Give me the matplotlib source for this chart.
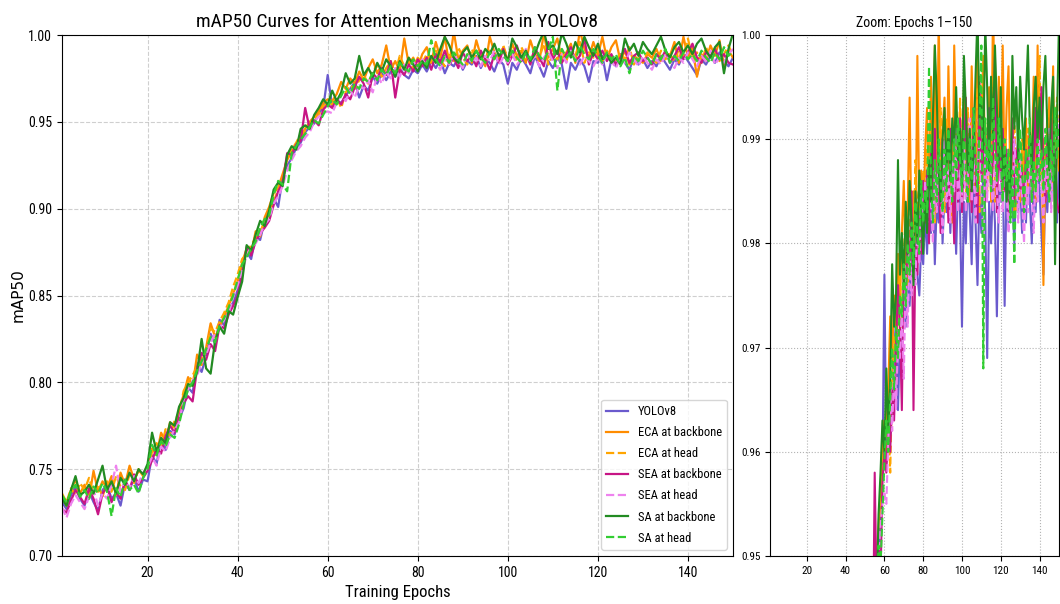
import numpy as np
import matplotlib
matplotlib.use('Agg')
import matplotlib.pyplot as plt

plt.rcParams['font.family'] = ['Roboto Condensed', 'Open Sans Condensed', 'DejaVu Sans']
plt.rcParams['font.stretch'] = 'condensed'

epochs = np.arange(1, 151)

yolov8 = [
    0.731, 0.727, 0.735, 0.740, 0.733, 0.729, 0.737, 0.731, 0.726, 0.738,
    0.741, 0.733, 0.736, 0.729, 0.742, 0.738, 0.745, 0.737, 0.744, 0.743,
    0.758, 0.753, 0.767, 0.761, 0.772, 0.770, 0.779, 0.785, 0.797, 0.794,
    0.811, 0.806, 0.815, 0.828, 0.822, 0.836, 0.833, 0.842, 0.846, 0.853,
    0.866, 0.875, 0.871, 0.884, 0.882, 0.893, 0.898, 0.906, 0.901, 0.918,
    0.925, 0.929, 0.935, 0.938, 0.944, 0.947, 0.949, 0.955, 0.958, 0.977,
    0.959, 0.962, 0.961, 0.965, 0.969, 0.973, 0.964, 0.971, 0.968, 0.976,
    0.972, 0.978, 0.974, 0.979, 0.976, 0.981, 0.977, 0.975, 0.980, 0.978,
    0.983, 0.979, 0.985, 0.981, 0.986, 0.978, 0.984, 0.982, 0.987, 0.980,
    0.985, 0.983, 0.988, 0.981, 0.986, 0.984, 0.979, 0.986, 0.983, 0.972,
    0.984, 0.980, 0.987, 0.983, 0.978, 0.988, 0.982, 0.976, 0.985, 0.981,
    0.987, 0.983, 0.969, 0.984, 0.980, 0.986, 0.982, 0.973, 0.985, 0.984,
    0.988, 0.974, 0.986, 0.982, 0.989, 0.984, 0.980, 0.987, 0.983, 0.986,
    0.981, 0.985, 0.982, 0.988, 0.984, 0.980, 0.986, 0.983, 0.989, 0.985,
    0.981, 0.977, 0.986, 0.983, 0.988, 0.984, 0.990, 0.985, 0.982, 0.987,
]

eca_backbone = [
    0.734, 0.729, 0.738, 0.744, 0.736, 0.741, 0.733, 0.749, 0.737, 0.743,
    0.739, 0.746, 0.735, 0.748, 0.741, 0.752, 0.744, 0.749, 0.747, 0.752,
    0.762, 0.758, 0.771, 0.766, 0.777, 0.774, 0.784, 0.793, 0.803, 0.798,
    0.816, 0.810, 0.820, 0.834, 0.826, 0.832, 0.838, 0.844, 0.851, 0.858,
    0.869, 0.877, 0.874, 0.887, 0.884, 0.895, 0.901, 0.909, 0.912, 0.920,
    0.928, 0.933, 0.937, 0.941, 0.946, 0.950, 0.953, 0.956, 0.961, 0.963,
    0.962, 0.966, 0.973, 0.969, 0.975, 0.972, 0.979, 0.974, 0.981, 0.986,
    0.978, 0.983, 0.994, 0.980, 0.985, 0.979, 0.998, 0.983, 0.987, 0.981,
    0.989, 0.993, 0.984, 0.996, 0.987, 0.999, 0.983, 1.002, 0.986, 0.991,
    0.994, 0.984, 0.997, 0.988, 0.982, 0.999, 0.990, 0.986, 0.993, 0.985,
    0.995, 0.988, 0.991, 0.984, 0.997, 0.989, 0.985, 1.001, 0.987, 0.992,
    0.998, 0.986, 0.990, 0.995, 0.984, 1.003, 0.992, 0.987, 0.996, 0.988,
    0.999, 0.986, 0.993, 0.997, 0.985, 0.991, 0.983, 0.988, 0.986, 0.984,
    0.989, 0.987, 0.992, 0.985, 0.990, 0.988, 0.996, 0.984, 0.999, 0.987,
    0.993, 0.976, 0.989, 0.985, 0.994, 0.988, 0.997, 0.982, 0.991, 0.987,
]

eca_head = [
    0.736, 0.731, 0.739, 0.735, 0.742, 0.738, 0.745, 0.736, 0.741, 0.734,
    0.743, 0.737, 0.746, 0.740, 0.738, 0.747, 0.742, 0.750, 0.746, 0.749,
    0.760, 0.765, 0.762, 0.773, 0.769, 0.778, 0.782, 0.795, 0.800, 0.804,
    0.809, 0.814, 0.818, 0.831, 0.829, 0.835, 0.840, 0.846, 0.855, 0.862,
    0.871, 0.874, 0.879, 0.883, 0.887, 0.892, 0.897, 0.904, 0.911, 0.917,
    0.930, 0.934, 0.938, 0.943, 0.945, 0.949, 0.952, 0.954, 0.959, 0.961,
    0.960, 0.964, 0.958, 0.967, 0.971, 0.969, 0.974, 0.977, 0.972, 0.979,
    0.983, 0.976, 0.981, 0.985, 0.978, 0.988, 0.982, 0.986, 0.980, 0.987,
    0.984, 0.989, 0.983, 0.991, 0.986, 0.982, 0.990, 0.985, 0.993, 0.987,
    0.983, 0.992, 0.986, 0.989, 0.984, 0.991, 0.988, 0.985, 0.994, 0.986,
    0.990, 0.985, 0.993, 0.988, 0.984, 0.992, 0.987, 0.995, 0.983, 0.989,
    0.986, 0.991, 0.985, 0.993, 0.988, 0.996, 0.984, 0.990, 0.987, 0.992,
    0.985, 0.991, 0.988, 0.984, 0.990, 0.986, 0.993, 0.983, 0.988, 0.985,
    0.990, 0.987, 0.984, 0.991, 0.986, 0.989, 0.985, 0.992, 0.988, 0.998,
    0.986, 0.990, 0.984, 0.993, 0.987, 0.991, 0.985, 0.989, 0.994, 0.988,
]

sea_backbone = [
    0.727, 0.725, 0.732, 0.738, 0.734, 0.730, 0.739, 0.733, 0.724, 0.736,
    0.740, 0.731, 0.737, 0.733, 0.744, 0.738, 0.747, 0.741, 0.745, 0.749,
    0.755, 0.762, 0.759, 0.769, 0.775, 0.771, 0.780, 0.788, 0.792, 0.789,
    0.808, 0.817, 0.813, 0.822, 0.818, 0.833, 0.831, 0.839, 0.844, 0.850,
    0.862, 0.878, 0.873, 0.881, 0.886, 0.889, 0.893, 0.902, 0.910, 0.915,
    0.932, 0.931, 0.937, 0.939, 0.958, 0.946, 0.951, 0.948, 0.957, 0.960,
    0.958, 0.963, 0.960, 0.966, 0.963, 0.970, 0.976, 0.972, 0.964, 0.978,
    0.975, 0.981, 0.977, 0.985, 0.964, 0.980, 0.977, 0.983, 0.979, 0.986,
    0.982, 0.987, 0.980, 0.989, 0.984, 0.991, 0.983, 0.987, 0.981, 0.990,
    0.985, 0.988, 0.982, 0.991, 0.986, 0.980, 0.989, 0.984, 0.992, 0.983,
    0.988, 0.994, 0.985, 0.990, 0.983, 0.993, 0.987, 0.982, 0.996, 0.986,
    0.991, 0.984, 0.989, 0.993, 0.985, 0.988, 0.998, 0.983, 0.990, 0.986,
    0.991, 0.985, 0.989, 0.983, 0.987, 0.992, 0.984, 0.988, 0.990, 0.985,
    0.987, 0.983, 0.989, 0.986, 0.991, 0.984, 0.988, 0.993, 0.986, 0.990,
    0.995, 0.987, 0.984, 0.990, 0.988, 0.992, 0.986, 0.989, 0.984, 0.983,
]

sea_head = [
    0.728, 0.722, 0.730, 0.735, 0.731, 0.727, 0.734, 0.738, 0.729, 0.736,
    0.733, 0.741, 0.752, 0.737, 0.744, 0.739, 0.746, 0.742, 0.748, 0.751,
    0.757, 0.752, 0.763, 0.760, 0.768, 0.773, 0.777, 0.790, 0.796, 0.801,
    0.804, 0.811, 0.816, 0.823, 0.828, 0.831, 0.836, 0.840, 0.849, 0.856,
    0.864, 0.873, 0.878, 0.880, 0.885, 0.891, 0.894, 0.903, 0.907, 0.913,
    0.922, 0.928, 0.933, 0.936, 0.941, 0.944, 0.950, 0.953, 0.955, 0.956,
    0.955, 0.961, 0.966, 0.962, 0.968, 0.964, 0.971, 0.969, 0.974, 0.967,
    0.977, 0.972, 0.979, 0.975, 0.981, 0.976, 0.983, 0.978, 0.985, 0.980,
    0.986, 0.982, 0.988, 0.984, 0.980, 0.987, 0.983, 0.989, 0.985, 0.981,
    0.990, 0.984, 0.987, 0.982, 0.988, 0.985, 0.991, 0.983, 0.987, 0.984,
    0.989, 0.983, 0.986, 0.992, 0.984, 0.988, 0.982, 0.987, 0.990, 0.985,
    0.981, 0.989, 0.984, 0.991, 0.986, 0.983, 0.988, 0.985, 0.982, 0.987,
    0.983, 0.989, 0.985, 0.981, 0.987, 0.984, 0.990, 0.986, 0.982, 0.988,
    0.984, 0.980, 0.986, 0.983, 0.989, 0.985, 0.981, 0.987, 0.984, 0.990,
    0.986, 0.982, 0.988, 0.985, 0.991, 0.983, 0.987, 0.984, 0.989, 0.992,
]

sa_backbone = [
    0.733, 0.729, 0.738, 0.746, 0.735, 0.737, 0.741, 0.736, 0.744, 0.752,
    0.738, 0.743, 0.736, 0.745, 0.741, 0.748, 0.743, 0.750, 0.747, 0.753,
    0.771, 0.760, 0.768, 0.765, 0.777, 0.775, 0.786, 0.791, 0.799, 0.798,
    0.806, 0.825, 0.808, 0.805, 0.824, 0.832, 0.828, 0.841, 0.839, 0.849,
    0.858, 0.879, 0.876, 0.885, 0.893, 0.890, 0.899, 0.911, 0.915, 0.913,
    0.931, 0.936, 0.934, 0.946, 0.948, 0.946, 0.954, 0.958, 0.963, 0.960,
    0.968, 0.962, 0.967, 0.978, 0.972, 0.975, 0.988, 0.977, 0.981, 0.976,
    0.984, 0.979, 0.986, 0.982, 0.976, 0.985, 0.980, 0.987, 0.983, 0.979,
    0.985, 0.981, 0.988, 0.984, 0.992, 0.999, 0.994, 0.987, 0.984, 0.990,
    0.993, 0.987, 0.991, 0.986, 0.992, 0.989, 0.995, 0.988, 0.991, 0.985,
    0.998, 0.993, 0.987, 0.991, 0.985, 0.989, 0.996, 1.002, 0.992, 0.994,
    0.989, 1.001, 0.995, 0.987, 0.996, 0.990, 0.999, 0.993, 0.988, 0.995,
    0.986, 0.989, 0.984, 0.987, 0.983, 0.998, 0.991, 0.995, 0.988, 0.996,
    0.992, 0.989, 0.994, 0.999, 0.991, 0.987, 0.993, 0.996, 0.990, 0.994,
    0.989, 0.995, 0.998, 0.991, 0.987, 0.993, 0.996, 0.978, 0.992, 1.001,
]

sa_head = [
    0.735, 0.731, 0.737, 0.741, 0.734, 0.738, 0.733, 0.740, 0.736, 0.742,
    0.737, 0.723, 0.739, 0.734, 0.744, 0.738, 0.741, 0.736, 0.745, 0.750,
    0.764, 0.758, 0.766, 0.763, 0.770, 0.768, 0.776, 0.787, 0.796, 0.800,
    0.807, 0.812, 0.819, 0.826, 0.823, 0.833, 0.837, 0.843, 0.850, 0.859,
    0.868, 0.872, 0.877, 0.881, 0.889, 0.894, 0.896, 0.908, 0.916, 0.914,
    0.910, 0.932, 0.936, 0.940, 0.943, 0.947, 0.951, 0.949, 0.954, 0.959,
    0.963, 0.960, 0.965, 0.970, 0.966, 0.972, 0.969, 0.975, 0.973, 0.978,
    0.974, 0.980, 0.977, 0.982, 0.978, 0.984, 0.981, 0.979, 0.986, 0.982,
    0.985, 0.983, 0.997, 0.986, 0.982, 0.988, 0.984, 0.990, 0.986, 0.983,
    0.989, 0.985, 0.991, 0.987, 0.984, 0.990, 0.986, 0.992, 0.988, 0.985,
    0.991, 0.987, 0.984, 0.990, 0.986, 0.993, 0.988, 0.985, 0.991, 0.999,
    0.968, 0.992, 0.987, 0.990, 0.985, 0.994, 0.989, 0.986, 0.992, 0.988,
    0.984, 0.990, 0.986, 0.989, 0.982, 0.987, 0.978, 0.988, 0.985, 0.991,
    0.987, 0.983, 0.989, 0.986, 0.992, 0.984, 0.988, 0.985, 0.990, 0.986,
    0.989, 0.985, 0.991, 0.987, 0.984, 0.990, 0.986, 0.993, 0.988, 0.991,
]

series = [
    ('YOLOv8', yolov8, 'slateblue', '-'),
    ('ECA at backbone', eca_backbone, 'darkorange', '-'),
    ('ECA at head', eca_head, 'orange', '--'),
    ('SEA at backbone', sea_backbone, 'mediumvioletred', '-'),
    ('SEA at head', sea_head, 'violet', '--'),
    ('SA at backbone', sa_backbone, 'forestgreen', '-'),
    ('SA at head', sa_head, 'limegreen', '--'),
]


def plot_curves():
    fig = plt.figure(figsize=(10.6, 6.04), dpi=100)
    ax = fig.add_axes([0.0585, 0.0795, 0.633, 0.8625])
    axz = fig.add_axes([0.7264, 0.0795, 0.2726, 0.8625])

    for label, vals, color, ls in series:
        ax.plot(epochs, vals, color=color, ls=ls, lw=1.6, label=label)
        axz.plot(epochs, vals, color=color, ls=ls, lw=1.5)

    ax.set_xlim(1, 150)
    ax.set_ylim(0.70, 1.00)
    ax.set_xticks([20, 40, 60, 80, 100, 120, 140])
    ax.set_yticks([0.70, 0.75, 0.80, 0.85, 0.90, 0.95, 1.00])
    ax.set_yticklabels(['%.2f' % v for v in ax.get_yticks()])
    ax.tick_params(labelsize=10)
    ax.grid(True, ls='--', color='#b0b0b0', alpha=0.6)
    ax.set_title('mAP50 Curves for Attention Mechanisms in YOLOv8', fontsize=14)
    ax.set_xlabel('Training Epochs', fontsize=12)
    ax.set_ylabel('mAP50', fontsize=11, family='DejaVu Sans', stretch='normal', labelpad=2)
    ax.legend(loc='lower right', fontsize=9, labelspacing=0.65, handlelength=1.7)

    axz.set_xlim(1, 150)
    axz.set_ylim(0.95, 1.00)
    axz.set_xticks([20, 40, 60, 80, 100, 120, 140])
    axz.set_yticks([0.95, 0.96, 0.97, 0.98, 0.99, 1.00])
    axz.set_yticklabels(['%.2f' % v for v in axz.get_yticks()])
    axz.tick_params(labelsize=8)
    axz.grid(True, ls=':', color='#a0a0a0', alpha=0.8)
    axz.set_title('Zoom: Epochs 1\u2013150', fontsize=10)

    fig.savefig('out.png', dpi=100)


def main():
    plot_curves()


if __name__ == '__main__':
    main()
